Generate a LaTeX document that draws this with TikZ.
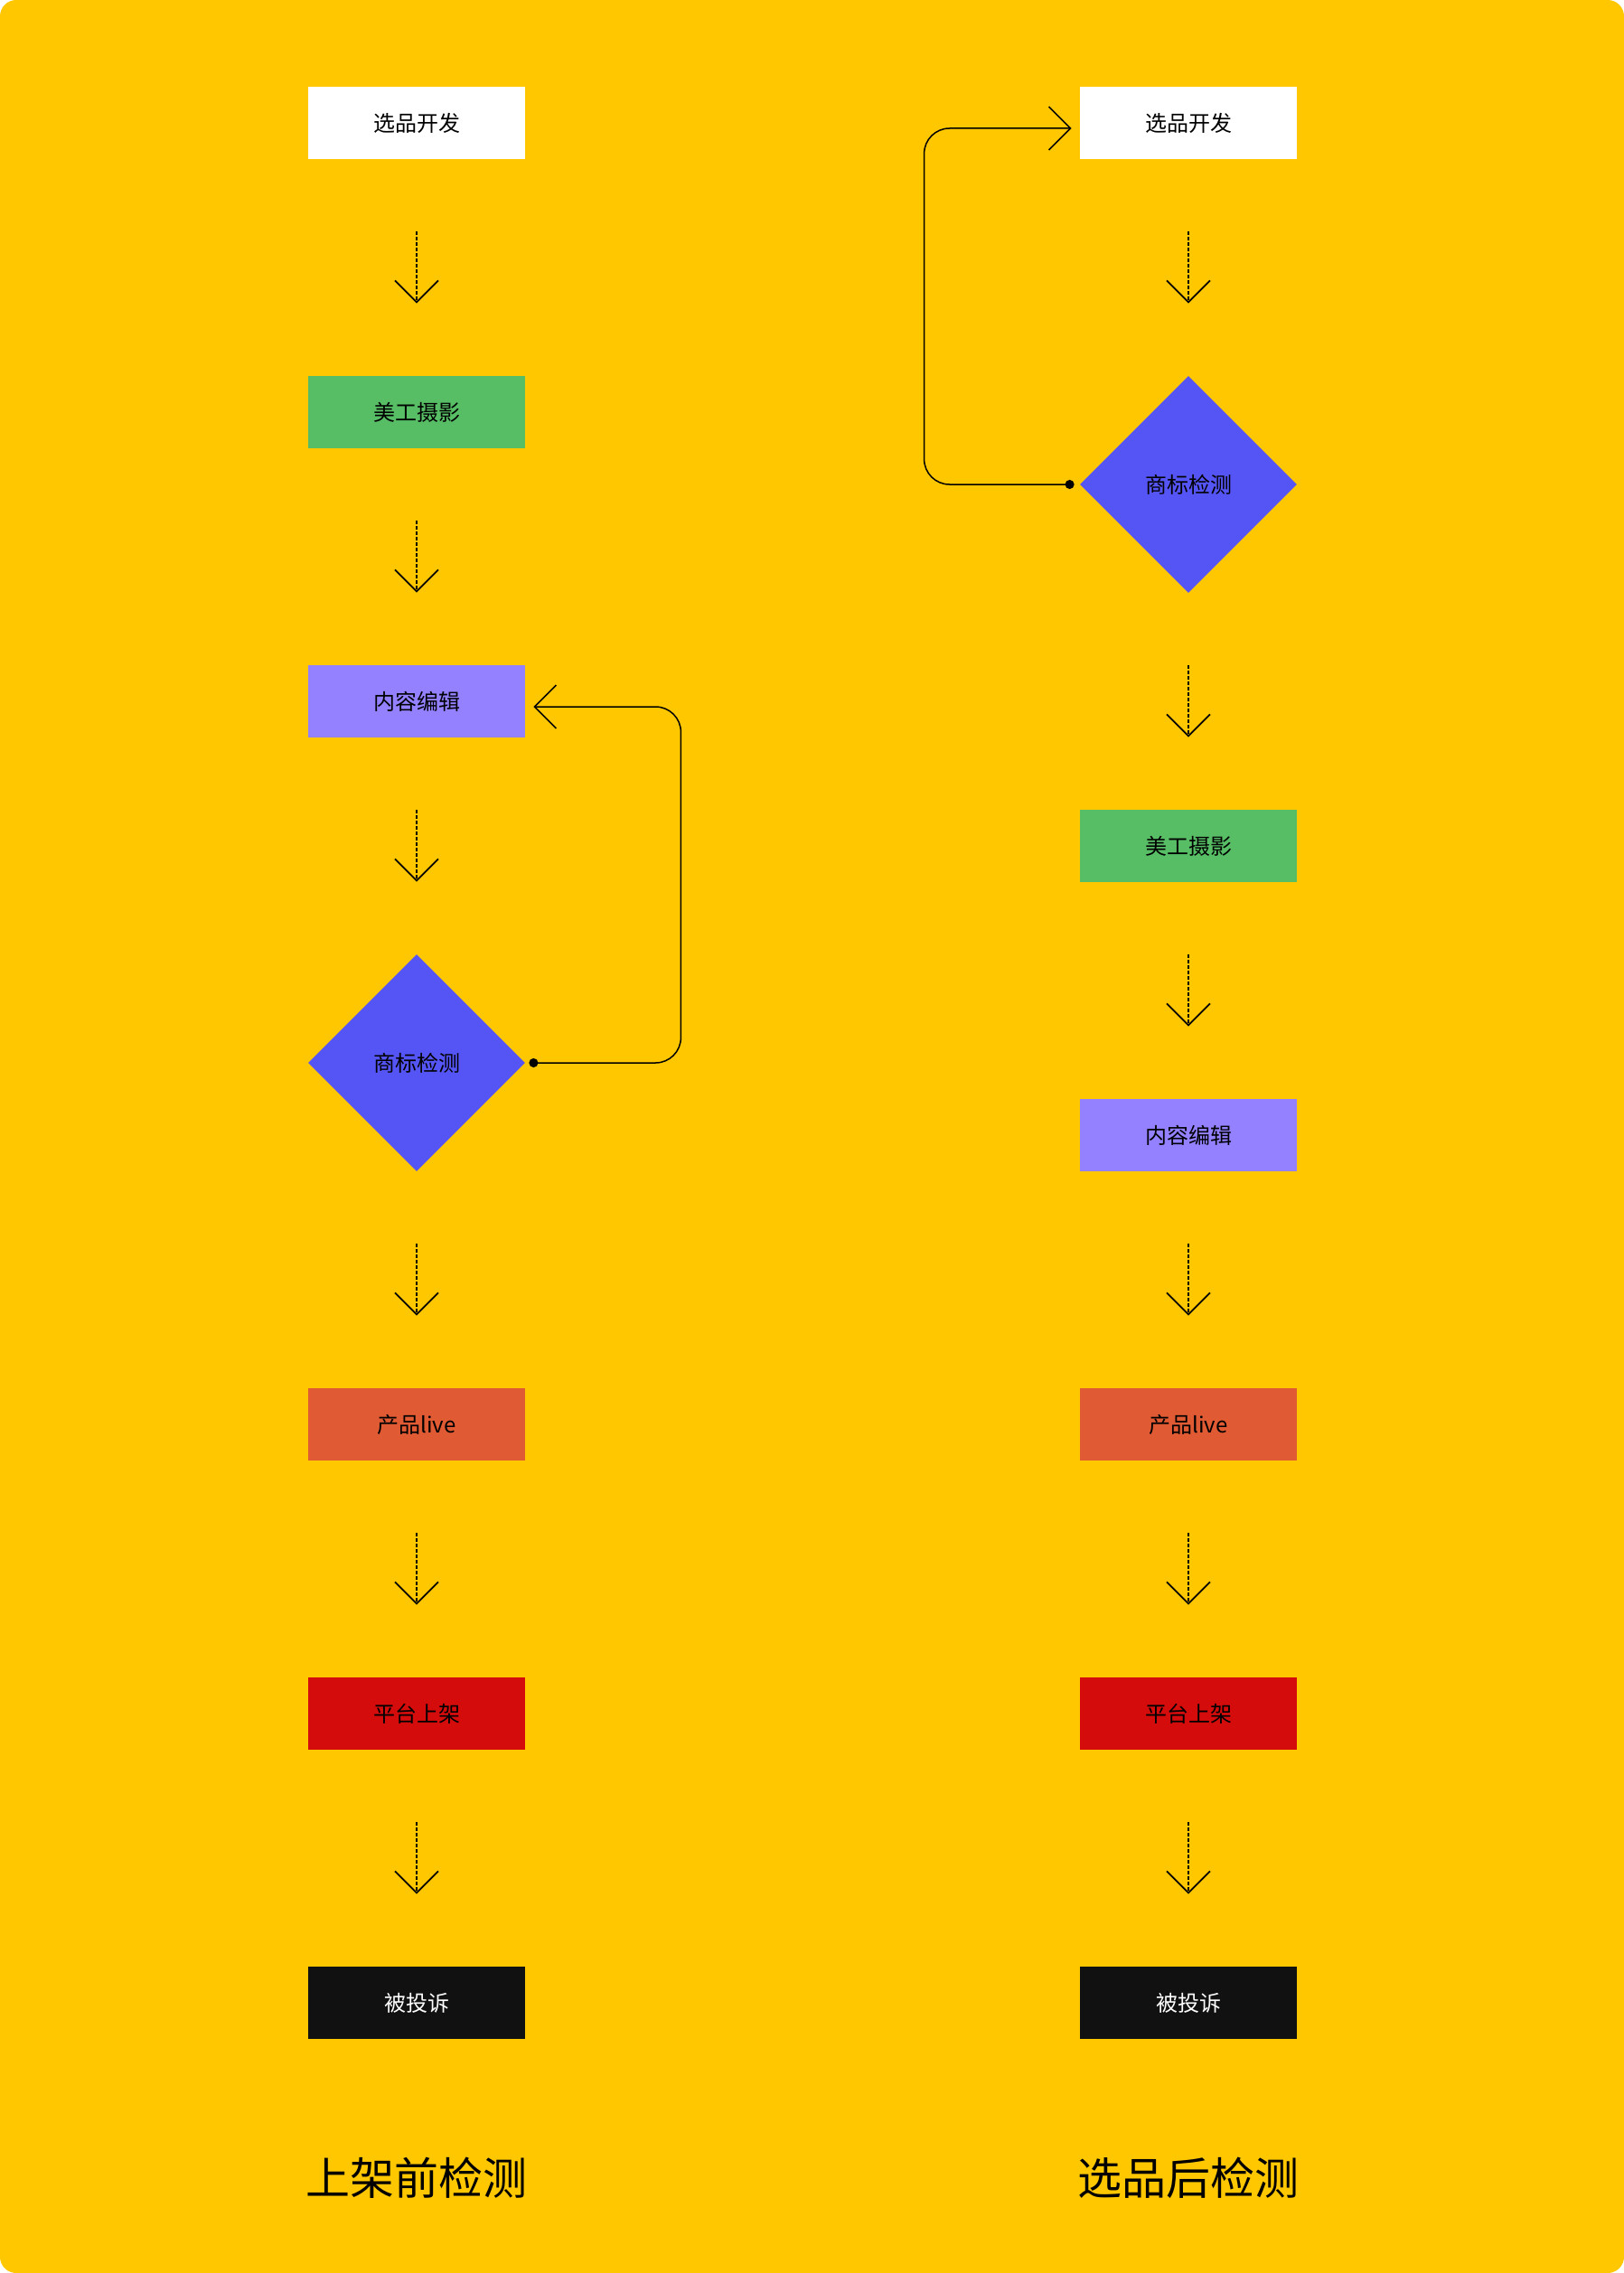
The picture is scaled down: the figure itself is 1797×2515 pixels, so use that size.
\documentclass[tikz,border=0pt]{standalone}
\usepackage{fontspec}
\setmainfont{Noto Sans CJK SC}
\usetikzlibrary{shapes.geometric,arrows.meta}
\definecolor{bgyellow}{HTML}{FFC700}
\definecolor{cgreen}{HTML}{57BE65}
\definecolor{clavender}{HTML}{9381FF}
\definecolor{cblue}{HTML}{5555F5}
\definecolor{corange}{HTML}{E05A33}
\definecolor{cred}{HTML}{D40C0C}
\definecolor{cblack}{HTML}{111111}
\begin{document}
\begin{tikzpicture}[x=0.5pt,y=-0.5pt,
    box/.style={shape=rectangle,minimum width=120pt,minimum height=40pt,inner sep=0pt,font=\fontsize{12}{14}\selectfont},
    check/.style={shape=diamond,aspect=1,minimum width=120pt,minimum height=120pt,inner sep=0pt,fill=cblue,font=\fontsize{12}{14}\selectfont},
    flow/.style={line width=0.9pt,dash pattern=on 2pt off 1pt,shorten <=40pt,shorten >=40pt,-{Straight Barb[length=12pt,width=24pt]}},
    back/.style={line width=0.75pt,rounded corners=14pt,{Circle[length=5pt]}-{Straight Barb[length=12pt,width=24pt]}},
    title/.style={font=\fontsize{24.5}{28}\selectfont}]

    \fill[bgyellow,rounded corners=9pt] (0,0) rectangle (1797,2515);

    % left: check before listing
    \node[box,fill=white] (dev1) at (461,136) {选品开发};
    \node[box,fill=cgreen] (art1) at (461,456) {美工摄影};
    \node[box,fill=clavender] (edit1) at (461,776) {内容编辑};
    \node[check] (check1) at (461,1176) {商标检测};
    \node[box,fill=corange] (live1) at (461,1576) {产品live};
    \node[box,fill=cred] (list1) at (461,1896) {平台上架};
    \node[box,fill=cblack,text=white] (claim1) at (461,2216) {被投诉};

    \draw[flow] (dev1) -- (art1);
    \draw[flow] (art1) -- (edit1);
    \draw[flow] (edit1) -- (check1);
    \draw[flow] (check1) -- (live1);
    \draw[flow] (live1) -- (list1);
    \draw[flow] (list1) -- (claim1);
    \draw[back] ([xshift=2pt]check1.east) -- ++(168,0) |- ([xshift=4.5pt,yshift=-3pt]edit1.east);

    % right: check after selection
    \node[box,fill=white] (dev2) at (1315,136) {选品开发};
    \node[check] (check2) at (1315,536) {商标检测};
    \node[box,fill=cgreen] (art2) at (1315,936) {美工摄影};
    \node[box,fill=clavender] (edit2) at (1315,1256) {内容编辑};
    \node[box,fill=corange] (live2) at (1315,1576) {产品live};
    \node[box,fill=cred] (list2) at (1315,1896) {平台上架};
    \node[box,fill=cblack,text=white] (claim2) at (1315,2216) {被投诉};

    \draw[flow] (dev2) -- (check2);
    \draw[flow] (check2) -- (art2);
    \draw[flow] (art2) -- (edit2);
    \draw[flow] (edit2) -- (live2);
    \draw[flow] (live2) -- (list2);
    \draw[flow] (list2) -- (claim2);
    \draw[back] ([xshift=-3pt]check2.west) -- ++(-166,0) |- ([xshift=-4.5pt,yshift=-3pt]dev2.west);

    \node[title] (title1) at (461,2410) {上架前检测};
    \node[title] (title2) at (1315,2410) {选品后检测};

  \end{tikzpicture}
\end{document}
